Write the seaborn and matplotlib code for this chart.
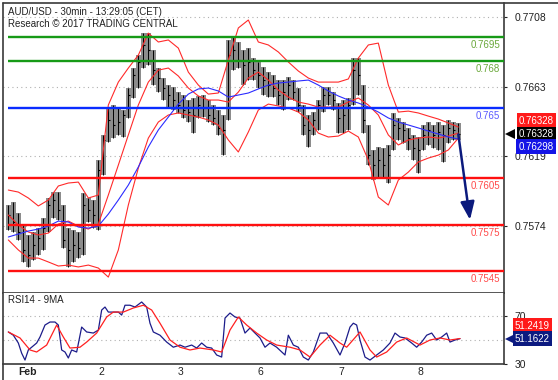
import numpy as np
import pandas as pd
import matplotlib
matplotlib.use("Agg")
import matplotlib.pyplot as plt
import matplotlib.transforms as mtransforms
from matplotlib.lines import Line2D
import seaborn as sns

# Тексти
title_lines = ["AUD/USD - 30min - 13:29:05 (CET)", "Research \u00a9 2017 TRADING CENTRAL"]
rsi_title = "RSI14 - 9MA"
day_labels = ["Feb", "2", "3", "6", "7", "8"]
day_hours = [0, 24, 48, 72, 96, 120]   # години торгового часу від початку 1 лютого

# Ціна, кожні 1.5 години
bar_hours = np.arange(91) * 1.5 - 2.0
high = [0.75875, 0.75894, 0.75824, 0.75747, 0.75683, 0.75702, 0.75727, 0.75792, 0.75920, 0.75958,
        0.75958, 0.75875, 0.75727, 0.75715, 0.75702, 0.75952, 0.75920, 0.75907, 0.76163, 0.76324,
        0.76497, 0.76516, 0.76497, 0.76484, 0.76625, 0.76753, 0.76836, 0.76977, 0.76977, 0.76869,
        0.76753, 0.76689, 0.76644, 0.76631, 0.76599, 0.76580, 0.76548, 0.76561, 0.76574, 0.76580,
        0.76548, 0.76516, 0.76484, 0.76452, 0.76933, 0.76952, 0.76920, 0.76869, 0.76881, 0.76817,
        0.76792, 0.76760, 0.76727, 0.76708, 0.76676, 0.76676, 0.76695, 0.76676, 0.76625, 0.76516,
        0.76452, 0.76471, 0.76548, 0.76631, 0.76631, 0.76599, 0.76529, 0.76548, 0.76561, 0.76817,
        0.76817, 0.76644, 0.76388, 0.76228, 0.76247, 0.76240, 0.76260, 0.76465, 0.76433, 0.76407,
        0.76369, 0.76324, 0.76311, 0.76388, 0.76407, 0.76388, 0.76407, 0.76388, 0.76420, 0.76407,
        0.76401]
low = [0.75715, 0.75702, 0.75651, 0.75510, 0.75478, 0.75522, 0.75554, 0.75587, 0.75702, 0.75792,
       0.75779, 0.75599, 0.75478, 0.75510, 0.75535, 0.75554, 0.75766, 0.75727, 0.75715, 0.76067,
       0.76279, 0.76304, 0.76324, 0.76311, 0.76433, 0.76561, 0.76625, 0.76753, 0.76772, 0.76644,
       0.76599, 0.76548, 0.76497, 0.76484, 0.76465, 0.76433, 0.76407, 0.76336, 0.76433, 0.76439,
       0.76407, 0.76388, 0.76324, 0.76195, 0.76420, 0.76740, 0.76753, 0.76644, 0.76676, 0.76676,
       0.76625, 0.76580, 0.76567, 0.76567, 0.76516, 0.76484, 0.76548, 0.76548, 0.76471, 0.76324,
       0.76247, 0.76324, 0.76356, 0.76471, 0.76516, 0.76484, 0.76336, 0.76336, 0.76356, 0.76516,
       0.76580, 0.76336, 0.76131, 0.76035, 0.76054, 0.76048, 0.76016, 0.76228, 0.76292, 0.76272,
       0.76228, 0.76163, 0.76080, 0.76228, 0.76260, 0.76240, 0.76228, 0.76151, 0.76272, 0.76292,
       0.76292]
close = [0.75811, 0.75766, 0.75702, 0.75587, 0.75554, 0.75619, 0.75663, 0.75727, 0.75875, 0.75907,
         0.75843, 0.75651, 0.75587, 0.75619, 0.75599, 0.75875, 0.75843, 0.75811, 0.76099, 0.76292,
         0.76420, 0.76388, 0.76407, 0.76452, 0.76580, 0.76708, 0.76792, 0.76901, 0.76869, 0.76740,
         0.76689, 0.76625, 0.76580, 0.76548, 0.76516, 0.76484, 0.76471, 0.76452, 0.76516, 0.76497,
         0.76452, 0.76433, 0.76369, 0.76356, 0.76836, 0.76869, 0.76804, 0.76772, 0.76792, 0.76740,
         0.76708, 0.76676, 0.76644, 0.76625, 0.76580, 0.76599, 0.76644, 0.76599, 0.76516, 0.76388,
         0.76356, 0.76420, 0.76516, 0.76580, 0.76580, 0.76548, 0.76433, 0.76452, 0.76516, 0.76740,
         0.76708, 0.76420, 0.76195, 0.76131, 0.76163, 0.76131, 0.76195, 0.76388, 0.76369, 0.76356,
         0.76304, 0.76240, 0.76228, 0.76324, 0.76356, 0.76324, 0.76343, 0.76324, 0.76369, 0.76356,
         0.76328]

# Смуги Боллінджера та ковзне середнє, кожні 3 години
band_hours = np.arange(46) * 3.0 - 2.0
bb_upper = [0.75971, 0.75958, 0.75920, 0.75869, 0.75907, 0.75997, 0.76016, 0.76022, 0.75920, 0.75939,
            0.76516, 0.76663, 0.76753, 0.76836, 0.76977, 0.76920, 0.76933, 0.76881, 0.76727, 0.76644,
            0.76586, 0.76593, 0.76804, 0.77010, 0.77061, 0.76920, 0.76901, 0.76856, 0.76792, 0.76734,
            0.76689, 0.76663, 0.76663, 0.76663, 0.76683, 0.76817, 0.76901, 0.76913, 0.76644, 0.76471,
            0.76477, 0.76465, 0.76445, 0.76426, 0.76401, 0.76375]
bb_mid = [0.75811, 0.75747, 0.75702, 0.75683, 0.75695, 0.75753, 0.75772, 0.75740, 0.75721, 0.75753,
          0.75939, 0.76131, 0.76324, 0.76516, 0.76663, 0.76740, 0.76753, 0.76702, 0.76625, 0.76574,
          0.76548, 0.76548, 0.76535, 0.76599, 0.76689, 0.76727, 0.76676, 0.76612, 0.76567, 0.76535,
          0.76522, 0.76503, 0.76503, 0.76503, 0.76535, 0.76561, 0.76516, 0.76452, 0.76324, 0.76260,
          0.76292, 0.76304, 0.76311, 0.76304, 0.76317, 0.76336]
bb_lower = [0.75651, 0.75587, 0.75535, 0.75535, 0.75510, 0.75484, 0.75490, 0.75478, 0.75490, 0.75471,
            0.75413, 0.75587, 0.75875, 0.76112, 0.76304, 0.76407, 0.76452, 0.76465, 0.76452, 0.76439,
            0.76420, 0.76388, 0.76292, 0.76215, 0.76343, 0.76484, 0.76522, 0.76510, 0.76497, 0.76471,
            0.76420, 0.76336, 0.76311, 0.76317, 0.76349, 0.76311, 0.76163, 0.75926, 0.75875, 0.76035,
            0.76086, 0.76151, 0.76176, 0.76195, 0.76228, 0.76304]
ma_blue = [0.75670, 0.75689, 0.75708, 0.75721, 0.75740, 0.75772, 0.75766, 0.75734, 0.75727, 0.75740,
           0.75817, 0.75907, 0.76003, 0.76119, 0.76247, 0.76356, 0.76439, 0.76522, 0.76586, 0.76619,
           0.76625, 0.76606, 0.76567, 0.76580, 0.76593, 0.76619, 0.76644, 0.76657, 0.76663, 0.76670,
           0.76676, 0.76644, 0.76606, 0.76574, 0.76548, 0.76529, 0.76503, 0.76471, 0.76433, 0.76407,
           0.76388, 0.76369, 0.76349, 0.76330, 0.76311, 0.76298]
bb_tag = 0.76328

# Рівні підтримки / опору
levels_green = [0.7695, 0.768]
levels_blue = [0.765]
levels_red = [0.7605, 0.7575, 0.7545]
price_ticks = [0.7708, 0.7663, 0.7619, 0.7574]
target_hour, target_price = 136.5, 0.7578

# RSI
rsi_hours = [-2, -0.5, 1, 2, 3, 4, 5, 6.5, 7.5, 9,
             10.5, 12, 13, 14, 15, 16, 17, 18.5, 20, 21.5,
             23.5, 25, 26, 27, 28, 29.5, 31, 32, 33, 34.5,
             36, 38, 39.5, 40.5, 41.5, 43.5, 45.5, 47.5, 49.5, 51,
             53, 54.5, 56, 57.5, 59, 60.5, 62, 63, 64.5, 66,
             67.5, 69, 70.5, 72, 73.5, 75, 76.5, 78.5, 81, 82,
             83.5, 85, 86.5, 88, 89.5, 91.5, 93.5, 95.5, 97.5, 99,
             100.5, 101.5, 102.5, 103.5, 105, 106.5, 108.5, 110.5, 112.5, 114,
             115.5, 117, 119, 120.5, 122, 123.5, 125, 126.5, 128, 129.5,
             130.5, 132, 133.5]
rsi = [56.7, 54, 47.5, 39, 33.3, 41.7, 44, 47.5, 52.5, 62.5,
       65, 65, 62.5, 41.7, 40, 35, 41.7, 40, 60.8, 56.7,
       55.8, 58.3, 75, 77.5, 73.3, 73.3, 73.3, 70.8, 79, 79,
       77.5, 81.7, 77.5, 64, 56.7, 54, 48.3, 44, 45.8, 44,
       45.8, 43.3, 47.5, 44, 43.3, 37.5, 35.8, 68.3, 72.5, 69.2,
       68.3, 55.8, 60, 55.8, 51.7, 44, 47.5, 44, 37.5, 54,
       45.8, 44, 35.8, 33.3, 40, 55.8, 55.8, 47.5, 37.5, 47.5,
       60.8, 64, 62.5, 50, 35.8, 33.3, 37.5, 41.7, 47.5, 55.8,
       52.5, 51.7, 47.5, 44, 48.3, 54, 55.8, 50, 52.5, 55.8,
       48.3, 50, 51.1622]
rsi_ma_hours = [-2, 1.5, 4.5, 6.5, 9.5, 12.5, 14.5, 16.5, 19.5, 21.5,
                24.5, 27.5, 29.5, 32.5, 35.5, 38.5, 41, 43.5, 46.5, 49.5,
                52.5, 55.5, 59.5, 62, 64.5, 67, 69.5, 72.5, 75.5, 78.5,
                82.5, 85.5, 88.5, 91.5, 94.5, 97.5, 99.5, 103.5, 106.5, 108.5,
                111.5, 114.5, 117.5, 121.5, 124.5, 127.5, 130.5, 133.5]
rsi_ma = [56.7, 51.7, 41.7, 40, 45.8, 62.5, 52.5, 43.3, 44, 48.3,
          55.8, 69.2, 73.3, 73.3, 76.7, 79, 75, 64, 50, 44,
          41.7, 43.3, 41.7, 40, 58.3, 69.2, 62.5, 55.8, 50, 45.8,
          44, 41.7, 35.8, 45.8, 54, 47.5, 44, 56.7, 41.7, 35.8,
          40, 48.3, 51.7, 45.8, 50, 51.7, 50, 51.2419]

sns.set_style("white")
plt.rcParams["font.family"] = ["Liberation Sans", "DejaVu Sans"]

W, H = 558, 380
fig = plt.figure(figsize=(W / 100, H / 100), dpi=100)


def px_box(x0, y0, x1, y1):
    return [x0 / W, 1 - y1 / H, (x1 - x0) / W, (y1 - y0) / H]


ax = fig.add_axes(px_box(3, 3, 504, 293))
ax2 = fig.add_axes(px_box(3, 293, 504, 364), sharex=ax)
x_right = 146.7
ax.set_xlim(-3.6, x_right)
ax.set_ylim(0.75311, 0.77170)
ax2.set_ylim(30, 89.2)

# бари
ohlc = pd.DataFrame({"t": bar_hours, "high": high, "low": low, "close": close})
ax.bar(ohlc["t"], ohlc["high"] - ohlc["low"], bottom=ohlc["low"], width=1.35,
       color="#8c8c8c", lw=0, zorder=1)
ax.vlines(ohlc["t"], ohlc["low"], ohlc["high"], color="black", lw=0.7, zorder=2)
ax.hlines(ohlc["close"], ohlc["t"], ohlc["t"] + 0.6, color="black", lw=0.8, zorder=2)

# смуги
bands = pd.DataFrame({"t": band_hours, "upper": bb_upper, "mid": bb_mid,
                      "lower": bb_lower, "ma": ma_blue})
for col in ["upper", "mid", "lower"]:
    sns.lineplot(data=bands, x="t", y=col, ax=ax, color="#ff2a2a", lw=0.8, zorder=3)
sns.lineplot(data=bands, x="t", y="ma", ax=ax, color="#2b2bff", lw=0.8, zorder=3)

# рівні
for levels, lc, tc in [(levels_green, "#169a16", "#6aa83a"),
                       (levels_blue, "#0a2cff", "#5a5aff"),
                       (levels_red, "#ff1010", "#ff4a4a")]:
    for lv in levels:
        ax.hlines(lv, bar_hours[0], x_right, color=lc, lw=1.7, zorder=4)
        ax.annotate(f"{lv:g}", xy=(0.992, lv), xycoords=("axes fraction", "data"),
                    xytext=(0, -3), textcoords="offset pixels", ha="right", va="top",
                    fontsize=7, color=tc, zorder=5)

# стрілка прогнозу
ax.annotate("", xy=(target_hour, target_price), xytext=(bar_hours[-1], close[-1]),
            arrowprops=dict(arrowstyle="-|>,head_length=0.9,head_width=0.35",
                            color="#0b1a7d", lw=1.8, mutation_scale=12,
                            shrinkA=0, shrinkB=0), zorder=6)

# RSI
rsi_df = pd.DataFrame({"t": rsi_hours, "rsi": rsi})
rsi_ma_df = pd.DataFrame({"t": rsi_ma_hours, "ma": rsi_ma})
for lv in [70, 50]:
    ax2.axhline(lv, color="#b0b0b0", ls=(0, (1, 3)), lw=0.8, zorder=1)
sns.lineplot(data=rsi_df, x="t", y="rsi", ax=ax2, color="#1c1c8a", lw=0.9, zorder=3)
sns.lineplot(data=rsi_ma_df, x="t", y="ma", ax=ax2, color="#ff2020", lw=0.9, zorder=4)

# осі
for a in (ax, ax2):
    a.set_xlabel("")
    a.set_ylabel("")
    a.yaxis.tick_right()
    a.tick_params(axis="y", direction="out", length=2.2, width=0.8, pad=5.5,
                  labelsize=7.5, colors="#222222")
    for s in ["top", "left"]:
        a.spines[s].set_visible(False)
    for s in ["right", "bottom"]:
        a.spines[s].set_color("#3a3a3a")
        a.spines[s].set_linewidth(1.2)

ax.set_yticks(price_ticks)
ax.set_yticklabels([f"{v:.4f}" for v in price_ticks])
ax.grid(axis="y", color="#b0b0b0", ls=(0, (1, 3)), lw=0.8)
ax.grid(axis="x", visible=False)
ax.tick_params(axis="x", bottom=False, labelbottom=False)

ax2.set_yticks([70, 30])
ax2.set_xticks(day_hours)
ax2.set_xticklabels(day_labels)
ax2.tick_params(axis="x", direction="out", length=3.6, width=0.8, pad=-1.5,
                labelsize=7.5, colors="#222222")
shift = mtransforms.ScaledTranslation(3 / 100, 0, fig.dpi_scale_trans)
for lab in ax2.get_xticklabels():
    lab.set_ha("left")
    lab.set_transform(lab.get_transform() + shift)
ax2.get_xticklabels()[0].set_fontweight("bold")


# мітки значень праворуч
def tag(a, value, text, color, dy, xoff=50, pointer=False):
    a.annotate(text, xy=(1, value), xycoords=("axes fraction", "data"),
               xytext=(xoff, dy), textcoords="offset pixels", ha="right", va="center",
               fontsize=7, color="white", annotation_clip=False, zorder=8,
               bbox=dict(boxstyle="square,pad=0.25", fc=color, ec="none"))
    if pointer:
        blend = mtransforms.blended_transform_factory(a.transAxes, a.transData)
        a.plot([1 + 5.5 / 501], [value], marker="<", ms=7, color=color, mew=0,
               transform=blend, clip_on=False, zorder=7)


tag(ax, bb_tag, f"{bb_tag:.5f}", "#ff1a1a", 13.5)
tag(ax, close[-1], f"{close[-1]:.5f}", "#000000", 0, pointer=True)
tag(ax, ma_blue[-1], f"{ma_blue[-1]:.5f}", "#1414e6", -7.5)
tag(ax2, rsi_ma[-1], f"{rsi_ma[-1]:.4f}", "#ff1a1a", 13, xoff=46)
tag(ax2, rsi[-1], f"{rsi[-1]:.4f}", "#0c1a80", 0, xoff=46, pointer=True)

# заголовки
fig.text(8 / W, 1 - 12 / H, title_lines[0], fontsize=7, va="center", color="#222222")
fig.text(8 / W, 1 - 24 / H, title_lines[1], fontsize=7, va="center", color="#222222")
fig.text(8 / W, 1 - 300 / H, rsi_title, fontsize=7, va="center", color="#222222")

# рамка
fig.add_artist(Line2D([3 / W, 1], [1 - 3 / H, 1 - 3 / H], color="#3a3a3a", lw=1.2))
fig.add_artist(Line2D([3 / W, 3 / W], [0, 1 - 3 / H], color="#3a3a3a", lw=1.2))

fig.savefig("out.png", dpi=100)
